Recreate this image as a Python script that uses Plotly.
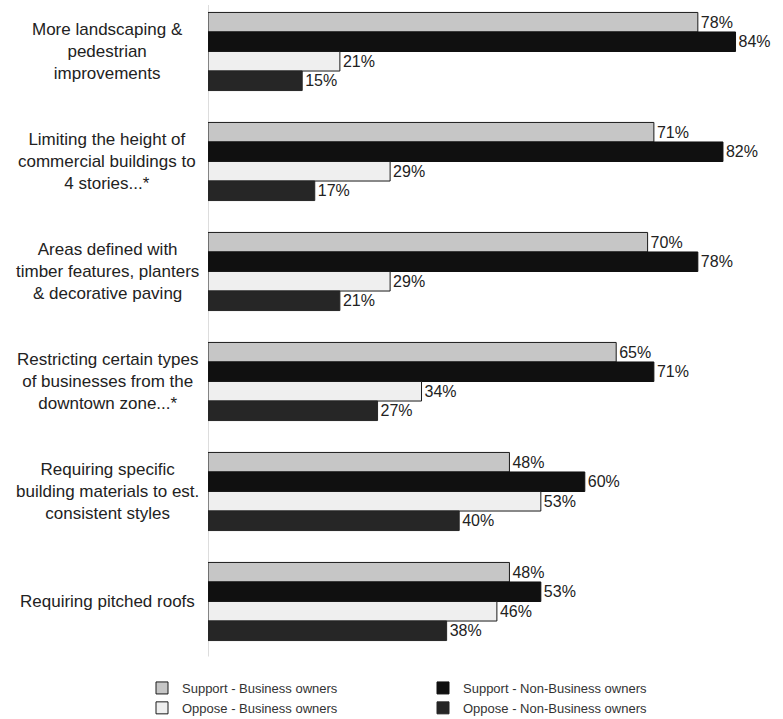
import plotly.graph_objects as go

categories = [
    "More landscaping &<br>pedestrian<br>improvements",
    "Limiting the height of<br>commercial buildings to<br>4 stories...*",
    "Areas defined with<br>timber features, planters<br>& decorative paving",
    "Restricting certain types<br>of businesses from the<br>downtown zone...*",
    "Requiring specific<br>building materials to est.<br>consistent styles",
    "Requiring pitched roofs",
]
series_names = [
    "Support - Business owners",
    "Support - Non-Business owners",
    "Oppose - Business owners",
    "Oppose - Non-Business owners",
]
support_business = [78, 71, 70, 65, 48, 48]
support_nonbusiness = [84, 82, 78, 71, 60, 53]
oppose_business = [21, 29, 29, 34, 53, 46]
oppose_nonbusiness = [15, 17, 21, 27, 40, 38]

series_values = [support_business, support_nonbusiness, oppose_business, oppose_nonbusiness]
fills = ["#c6c6c6", "#101010", "#efefef", "#262626"]
lines = ["#1a1a1a", "#101010", "#1a1a1a", "#262626"]

ids = list(range(len(categories)))
FONT = "Liberation Sans, Arial"

fig = go.Figure()
for name, vals, fc, lc in zip(series_names, series_values, fills, lines):
    fig.add_trace(go.Bar(
        y=ids, x=vals, orientation="h", name=name,
        marker=dict(color=fc, line=dict(color=lc, width=1)),
        text=[f"{v}%" for v in vals], textposition="outside",
        textfont=dict(size=16, color="#222222", family=FONT),
        cliponaxis=False,
    ))

W, H = 783, 719
legend_top = 673
ml, mr, mt = 208, 0, 5
mb = H - legend_top
pw = W - ml - mr
ph = H - mt - mb
pitch = 110.0
r_top = (mt - 51.5) / pitch
r_bot = r_top + ph / pitch

for i, c in enumerate(categories):
    fig.add_annotation(
        x=(107 - ml) / pw, xref="paper", y=i, yref="y",
        text=c, showarrow=False, xanchor="center", yanchor="middle", align="center",
        font=dict(size=17, color="#222222", family=FONT),
    )

# faint axis baseline at zero
fig.add_shape(type="line", xref="x", yref="y", x0=0, x1=0,
              y0=-0.5, y1=len(categories) - 0.5,
              line=dict(color="#bbbbbb", width=1), layer="below")

fig.update_layout(
    width=W, height=H,
    margin=dict(l=ml, r=mr, t=mt, b=mb),
    barmode="group", bargap=0.29, bargroupgap=0.0,
    plot_bgcolor="white", paper_bgcolor="white",
    font=dict(family=FONT, size=13, color="#222222"),
    xaxis=dict(range=[0, pw / 6.28], showticklabels=False, showgrid=False, zeroline=False,
               showline=False, ticks=""),
    yaxis=dict(range=[r_bot, r_top], showticklabels=False, showgrid=False, zeroline=False,
               showline=False, ticks=""),
    showlegend=True,
    legend=dict(orientation="h", xref="container", yref="container",
                x=142 / W, xanchor="left",
                y=1 - legend_top / H, yanchor="top",
                entrywidth=236, entrywidthmode="pixels", traceorder="normal",
                font=dict(size=13, color="#333333", family=FONT), itemwidth=30,
                tracegroupgap=0, bgcolor="rgba(0,0,0,0)"),
)

fig.write_html("out.html")
